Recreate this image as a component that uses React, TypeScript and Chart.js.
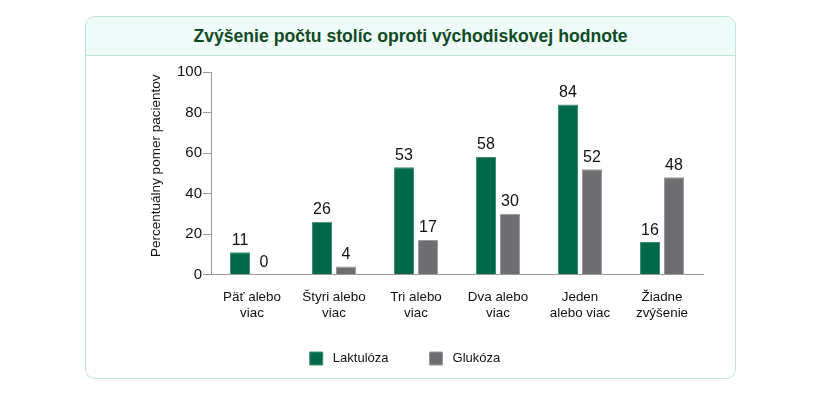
import React, { useEffect, useRef } from "react";
import { Chart, registerables } from "chart.js";

Chart.register(...registerables);

const chartTitle = "Zvýšenie počtu stolíc oproti východiskovej hodnote";
const yAxisTitle = "Percentuálny pomer pacientov";
const categories = [
  ["Päť alebo", "viac"],
  ["Štyri alebo", "viac"],
  ["Tri alebo", "viac"],
  ["Dva alebo", "viac"],
  ["Jeden", "alebo viac"],
  ["Žiadne", "zvýšenie"],
];
const seriesNames = ["Laktulóza", "Glukóza"];
const laktulozaValues = [11, 26, 53, 58, 84, 16];
const glukozaValues = [0, 4, 17, 30, 52, 48];
const yTicks = [0, 20, 40, 60, 80, 100];

const FONT = "'Liberation Sans', Arial, Helvetica, sans-serif";

const valueLabels = {
  id: "valueLabels",
  afterDatasetsDraw(chart: any) {
    const ctx = chart.ctx;
    ctx.save();
    ctx.font = `16px ${FONT}`;
    ctx.fillStyle = "#111111";
    ctx.textAlign = "center";
    ctx.textBaseline = "bottom";
    chart.data.datasets.forEach((ds: any, di: number) => {
      const meta = chart.getDatasetMeta(di);
      meta.data.forEach((bar: any, i: number) => {
        ctx.fillText(String(ds.data[i]), bar.x, bar.y - 4);
      });
    });
    ctx.restore();
  },
};

export default function App() {
  const canvasRef = useRef<HTMLCanvasElement | null>(null);

  useEffect(() => {
    document.body.style.margin = "0";
    const canvas = canvasRef.current;
    if (!canvas) return;
    const chart = new Chart(canvas, {
      type: "bar",
      data: {
        labels: categories,
        datasets: [
          {
            label: " " + seriesNames[0] + "    ",
            data: laktulozaValues,
            backgroundColor: "#01694a",
            borderColor: "#3f8f6d",
            borderWidth: 1,
            categoryPercentage: 0.585,
            barPercentage: 0.833,
          },
          {
            label: " " + seriesNames[1],
            data: glukozaValues,
            backgroundColor: "#6e6e70",
            borderColor: "#9a9a9c",
            borderWidth: 1,
            categoryPercentage: 0.585,
            barPercentage: 0.833,
          },
        ],
      },
      options: {
        animation: false,
        responsive: false,
        maintainAspectRatio: false,
        devicePixelRatio: 1,
        layout: { padding: { left: 107, right: 118, top: 72, bottom: 22 } },
        plugins: {
          tooltip: { enabled: false },
          legend: {
            position: "bottom",
            labels: {
              boxWidth: 13,
              boxHeight: 13,
              padding: 26.5,
              color: "#111111",
              font: { family: FONT, size: 13 },
            },
          },
        },
        scales: {
          x: {
            grid: { display: false, drawTicks: false },
            border: { display: true, color: "#9a9a9a", width: 1 },
            ticks: {
              color: "#111111",
              font: { family: FONT, size: 13.4, lineHeight: 1.2 },
              maxRotation: 0,
              autoSkip: false,
              padding: 15,
            },
            afterFit(scale: any) {
              scale.height = 51;
            },
          },
          y: {
            min: 0,
            max: 100,
            afterBuildTicks(scale: any) {
              scale.ticks = yTicks.map((v) => ({ value: v }));
            },
            grid: {
              display: true,
              drawOnChartArea: false,
              drawTicks: true,
              tickLength: 8,
              color: "#9a9a9a",
            },
            border: { display: true, color: "#9a9a9a", width: 1 },
            ticks: {
              color: "#111111",
              font: { family: FONT, size: 15 },
              padding: 1,
            },
            title: {
              display: true,
              text: "    " + yAxisTitle,
              color: "#111111",
              font: { family: FONT, size: 13.5 },
              padding: { top: 41, bottom: 0 },
            },
            afterFit(scale: any) {
              scale.width = 104;
            },
          },
        },
      },
      plugins: [valueLabels],
    });
    return () => chart.destroy();
  }, []);

  return (
    <div style={{ position: "absolute", left: 0, top: 0, width: 821, height: 397, background: "#ffffff" }}>
      <div
        style={{
          position: "absolute",
          left: 85,
          top: 16,
          width: 651,
          height: 363,
          boxSizing: "border-box",
          border: "1px solid #bfe6d8",
          borderRadius: 10,
          overflow: "hidden",
        }}
      >
        <div
          style={{
            height: 38,
            background: "#effbf8",
            borderBottom: "1px solid #bfe6d8",
            textAlign: "center",
            lineHeight: "38px",
            fontFamily: FONT,
            fontWeight: "bold",
            fontSize: 17.6,
            color: "#0f4a26",
          }}
        >
          {chartTitle}
        </div>
      </div>
      <canvas
        ref={canvasRef}
        width={821}
        height={397}
        style={{ position: "absolute", left: 0, top: 0, width: 821, height: 397 }}
      />
    </div>
  );
}
